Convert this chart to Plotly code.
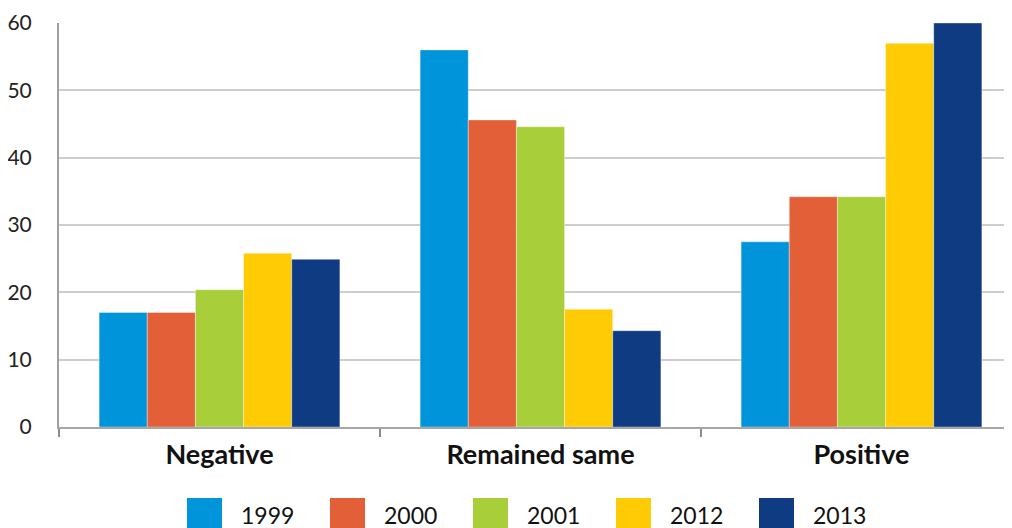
import plotly.graph_objects as go

categories = ["Negative", "Remained same", "Positive"]
years = ["1999", "2000", "2001", "2012", "2013"]
values_1999 = [17.0, 56.0, 27.5]
values_2000 = [17.0, 45.6, 34.2]
values_2001 = [20.4, 44.6, 34.2]
values_2012 = [25.8, 17.5, 57.0]
values_2013 = [24.9, 14.3, 60.0]
series = [values_1999, values_2000, values_2001, values_2012, values_2013]
colors = ["#0095DA", "#E35F38", "#A8CE3A", "#FFCB05", "#0F3B82"]
y_ticks = [0, 10, 20, 30, 40, 50, 60]

# the page body adds an 8px offset; size the figure so it fills the window
OFF = 8
W, H = 1012 - OFF, 528 - OFF
ml, mr, mt, mb = 59 - OFF, 0, 23 - OFF, 101
pw, ph = W - ml - mr, H - mt - mb
cat_px = 321.0

fig = go.Figure()
for name, vals, col in zip(years, series, colors):
    fig.add_trace(go.Bar(x=categories, y=vals, name=name,
                         marker=dict(color=col, line=dict(width=0.6, color="rgba(255,255,255,0.6)")),
                         showlegend=False))

font_family = "Lato, 'DejaVu Sans', sans-serif"

fig.update_layout(
    width=W, height=H,
    margin=dict(l=ml, r=mr, t=mt, b=mb, pad=0, autoexpand=False),
    paper_bgcolor="white", plot_bgcolor="white",
    barmode="group", bargap=0.25, bargroupgap=0,
    xaxis=dict(type="category", range=[-0.5, -0.5 + pw / cat_px], automargin=False,
               showline=True, linecolor="#a6a6a6", linewidth=2,
               ticks="outside", tickson="boundaries", ticklen=8, tickcolor="#8c8c8c", tickwidth=2,
               tickfont=dict(family=font_family, size=27, color="#111111", weight="bold"),
               ticklabelstandoff=3, showgrid=False),
    yaxis=dict(range=[0, 60], tickvals=y_ticks, showline=True, linecolor="#a0a0a0", linewidth=2,
               automargin=False,
               showgrid=True, gridcolor="#cdcdcd", gridwidth=1.5, zeroline=False,
               ticks="", ticklabelstandoff=21,
               tickfont=dict(family=font_family, size=21, color="#222222")),
)

# legend built from the series names and colours (reference pixel positions minus offset)
leg_left0, leg_step, leg_sq = 187 - OFF, 143, 35
leg_top = 498 - OFF
leg_text_y = 515 - OFF
for i, (name, col) in enumerate(zip(years, colors)):
    x0 = leg_left0 + i * leg_step
    fig.add_shape(type="rect", xref="paper", yref="paper",
                  x0=(x0 - ml) / pw, x1=(x0 + leg_sq - ml) / pw,
                  y0=(H - mb - leg_top) / ph, y1=(H - mb - leg_top - leg_sq) / ph,
                  fillcolor=col, line=dict(width=0), layer="above")
    fig.add_annotation(xref="paper", yref="paper", x=(x0 + 52 - ml) / pw, y=(H - mb - leg_text_y) / ph,
                       text=name, showarrow=False, xanchor="left", yanchor="middle",
                       font=dict(family=font_family, size=23, color="#111111"))

fig.write_html("out.html")
